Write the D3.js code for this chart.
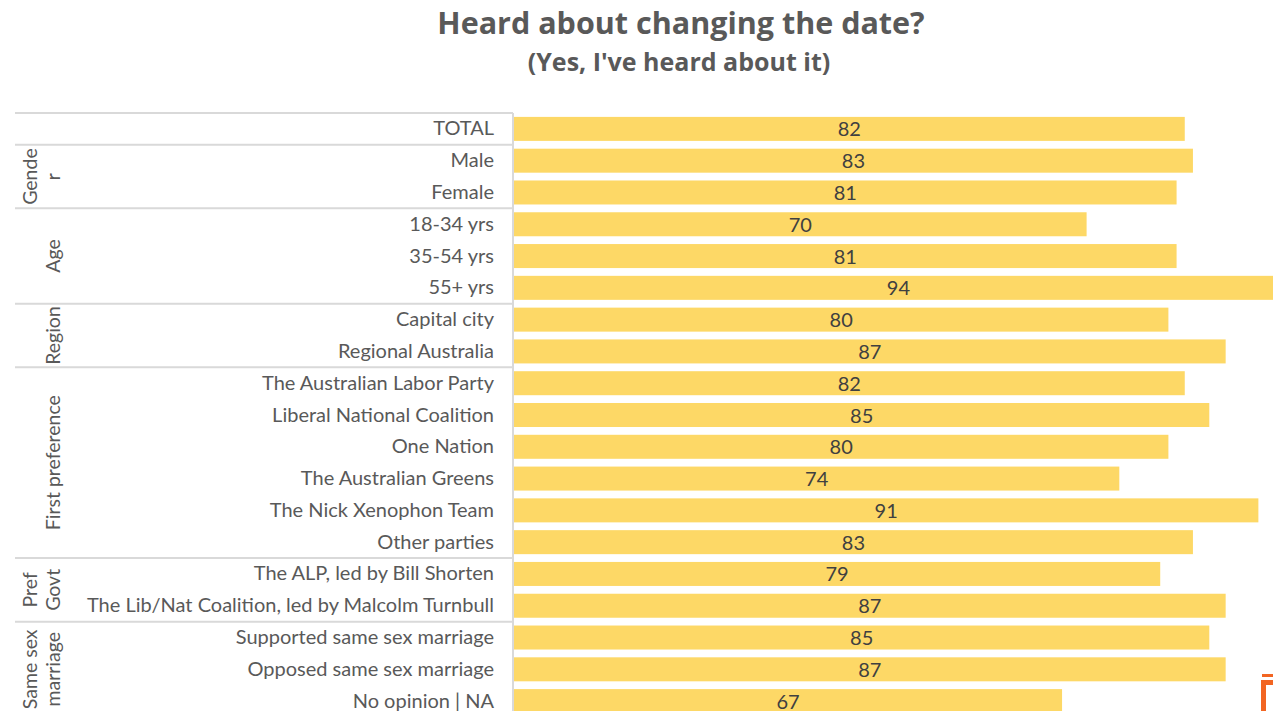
<!DOCTYPE html>
<html>
<head>
<meta charset="utf-8">
<script src="https://cdn.jsdelivr.net/npm/d3@7"></script>
<style>
  body { margin: 0; background: #fff; }
  svg { display: block; font-family: Lato, "Open Sans", sans-serif; }
</style>
</head>
<body>
<div id="chart"></div>
<script>
// data
var categories = ["TOTAL", "Male", "Female", "18-34 yrs", "35-54 yrs", "55+ yrs",
  "Capital city", "Regional Australia", "The Australian Labor Party",
  "Liberal National Coalition", "One Nation", "The Australian Greens",
  "The Nick Xenophon Team", "Other parties", "The ALP, led by Bill Shorten",
  "The Lib/Nat Coalition, led by Malcolm Turnbull", "Supported same sex marriage",
  "Opposed same sex marriage", "No opinion | NA"];
var values = [82, 83, 81, 70, 81, 94, 80, 87, 82, 85, 80, 74, 91, 83, 79, 87, 85, 87, 67];

// row groups (lines of the rotated label, and how many rows each covers)
var groupLabels = [[], ["Gende", "r"], ["Age"], ["Region"], ["First preference"], ["Pref", "Govt"], ["Same sex", "marriage"]];
var groupSizes = [1, 2, 3, 2, 6, 2, 3];

var width = 1273, height = 711;

var svg = d3.select("#chart")
  .append("svg")
    .attr("width", width)
    .attr("height", height);

// title
svg.append("text")
  .attr("x", 681).attr("y", 34)
  .attr("text-anchor", "middle")
  .style("font-family", "'Open Sans', sans-serif")
  .style("font-size", "30.5px").style("font-weight", "bold")
  .style("fill", "#595959")
  .text("Heard about changing the date?");
svg.append("text")
  .attr("x", 679).attr("y", 71)
  .attr("text-anchor", "middle")
  .style("font-family", "'Open Sans', sans-serif")
  .style("font-size", "25px").style("font-weight", "bold")
  .style("fill", "#595959")
  .text("(Yes, I've heard about it)");

// scales
var x = d3.scaleLinear()
  .domain([0, 100])
  .range([514, 514 + 818]);

var y = d3.scaleBand()
  .domain(categories)
  .range([113, 717])
  .paddingInner(0.245)
  .paddingOuter(0.1225);

var step = y.step();
var rowTop = function(i) { return 113 + i * step; };

// bars
svg.append("g")
  .selectAll("rect")
  .data(values)
  .enter()
  .append("rect")
    .attr("x", x(0))
    .attr("y", function(d, i) { return y(categories[i]); })
    .attr("width", function(d) { return x(d) - x(0); })
    .attr("height", y.bandwidth())
    .style("fill", "#fdd866");

// value labels centred in the bar
svg.append("g")
  .selectAll("text")
  .data(values)
  .enter()
  .append("text")
    .attr("x", function(d) { return (x(0) + x(d)) / 2; })
    .attr("y", function(d, i) { return y(categories[i]) + y.bandwidth() / 2 + 7.5; })
    .attr("text-anchor", "middle")
    .style("font-size", "20px")
    .style("fill", "#404040")
    .text(function(d) { return d; });

// category labels
svg.append("g")
  .selectAll("text")
  .data(categories)
  .enter()
  .append("text")
    .attr("x", 494)
    .attr("y", function(d) { return y(d) + y.bandwidth() / 2 + 6.5; })
    .attr("text-anchor", "end")
    .style("font-size", "20px")
    .style("fill", "#595959")
    .text(function(d) { return d; });

// grid lines of the label table
var lines = svg.append("g").style("stroke", "#d9d9d9").style("stroke-width", 2);
var start = 0;
groupSizes.forEach(function(n, g) {
  lines.append("line")
    .attr("x1", 15).attr("x2", 513)
    .attr("y1", rowTop(start)).attr("y2", rowTop(start));

  var cy = (rowTop(start) + rowTop(start + n)) / 2;
  var lab = groupLabels[g];
  lab.forEach(function(t, j) {
    var bx = 60 - (lab.length - 1 - j) * 23;
    svg.append("text")
      .attr("transform", "translate(" + bx + "," + cy + ") rotate(-90)")
      .attr("text-anchor", "middle")
      .style("font-size", "19.5px")
      .style("fill", "#595959")
      .text(t);
  });
  start += n;
});
lines.append("line")
  .attr("x1", 513).attr("x2", 513)
  .attr("y1", 113).attr("y2", height);

// corner logo fragment
var logo = svg.append("g").style("fill", "#f26522");
logo.append("rect").attr("x", 1262).attr("y", 674).attr("width", 11).attr("height", 3);
logo.append("rect").attr("x", 1261).attr("y", 680).attr("width", 12).attr("height", 5);
logo.append("rect").attr("x", 1261).attr("y", 680).attr("width", 5).attr("height", 31);
</script>
</body>
</html>
